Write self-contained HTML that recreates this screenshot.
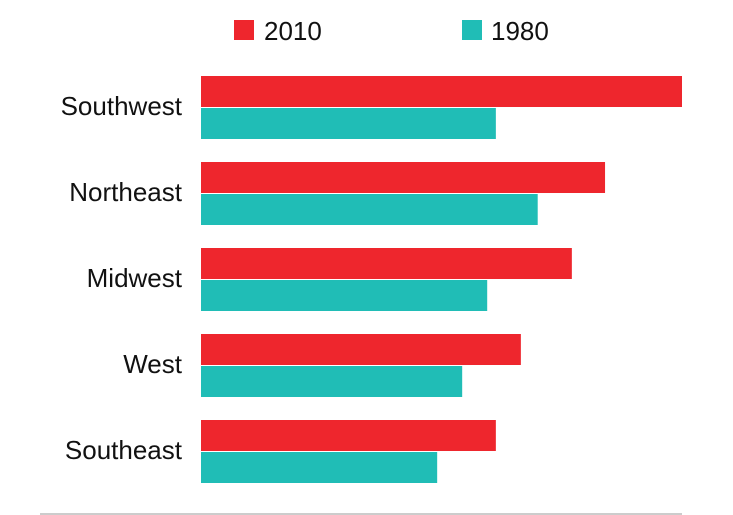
<!DOCTYPE html>
<html><head><meta charset="utf-8"><style>
html,body{margin:0;padding:0;background:#fff;width:733px;height:515px;overflow:hidden}
svg text{font-family:"Liberation Sans",sans-serif;fill:#111}
</style></head><body>
<svg id="chart" width="733" height="515" viewBox="0 0 733 515">
<g>
<rect x="234" y="20" width="20" height="20" fill="#ee262d"/>
<text x="264" y="40" font-size="26">2010</text>
<rect x="462" y="20" width="20" height="20" fill="#20bdb6"/>
<text x="491" y="40" font-size="26">1980</text>
</g>
<g id="bars"></g>
<line x1="40" y1="514" x2="682" y2="514" stroke="#bbb" stroke-width="1.5"/>
</svg>
<script>
const categories = ["Southwest","Northeast","Midwest","West","Southeast"];
const values2010 = [100, 84, 77.1, 66.5, 61.3];
const values1980 = [61.3, 70, 59.5, 54.3, 49.1];
const x0 = 201, xMax = 682, vMax = 100;
function xScale(v){ return x0 + (xMax - x0) * v / vMax; }
function yBand(i){ return 76 + i * 86; }
const ns = "http://www.w3.org/2000/svg";
const g = document.getElementById("bars");
categories.forEach((c, i) => {
  const y = yBand(i);
  const t = document.createElementNS(ns, "text");
  
  
  t.setAttribute("x", 182); t.setAttribute("y", y + 39);
  t.setAttribute("text-anchor", "end"); t.setAttribute("font-size", "26");
  t.textContent = c; g.appendChild(t);
  const r1 = document.createElementNS(ns, "rect");
  
  
  r1.setAttribute("x", x0); r1.setAttribute("y", y);
  r1.setAttribute("width", xScale(values2010[i]) - x0); r1.setAttribute("height", 31);
  r1.setAttribute("fill", "#ee262d"); g.appendChild(r1);
  const r2 = document.createElementNS(ns, "rect");
  
  
  r2.setAttribute("x", x0); r2.setAttribute("y", y + 32);
  r2.setAttribute("width", xScale(values1980[i]) - x0); r2.setAttribute("height", 31);
  r2.setAttribute("fill", "#20bdb6"); g.appendChild(r2);
});
</script>
</body></html>
